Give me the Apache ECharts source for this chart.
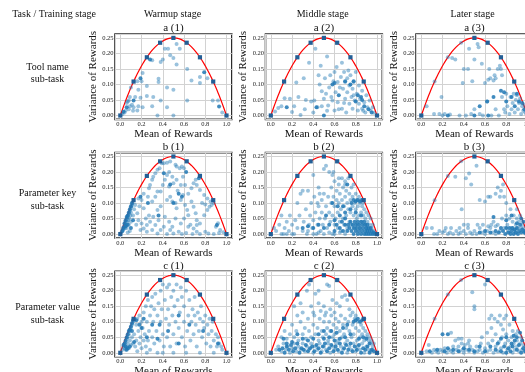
<!DOCTYPE html>
<html><head><meta charset="utf-8">
<script src="https://cdn.jsdelivr.net/npm/echarts@6/dist/echarts.min.js"></script>
<style>html,body{margin:0;padding:0;background:#fff}#c{width:525px;height:372px}</style>
</head><body><div id="c"></div>
<script>
// ---------- text ----------
const cornerHeader = 'Task / Training stage';
const colHeaders = ['Warmup stage', 'Middle stage', 'Later stage'];
const rowHeaders = ['Tool name\nsub-task', 'Parameter key\nsub-task', 'Parameter value\nsub-task'];
const panelTitles = [['a (1)', 'a (2)', 'a (3)'], ['b (1)', 'b (2)', 'b (3)'], ['c (1)', 'c (2)', 'c (3)']];
const xAxisName = 'Mean of Rewards';
const yAxisName = 'Variance of Rewards';
// ---------- binary-reward points lying on the bound (k/8 successes) ----------
const curveHits = [[0,0],[0.125,0.109375],[0.25,0.1875],[0.375,0.234375],[0.5,0.25],[0.625,0.234375],[0.75,0.1875],[0.875,0.109375],[1,0]];
const curveHitsLater = [[0,0],[0.5,0.25],[0.625,0.234375],[0.75,0.1875],[0.875,0.109375],[1,0]];
const curveHitsLaterFaint = [[0.125,0.109375],[0.25,0.1875],[0.375,0.234375]];
// ---------- scatter data: [mean, variance] ----------
const a1 = [[0.02,0.005],[0.04,0.01],[0.05,0.016],[0.07,0.045],[0.08,0.02],[0.09,0.03],[0.08,0.048],[0.09,0.06],[0.1,0.09],[0.11,0.035],[0.12,0.015],[0.125,0.027],[0.14,0.06],[0.16,0.016],[0.16,0.11],[0.17,0.083],[0.17,0.03],[0.19,0.057],[0.2,0.11],[0.21,0.137],[0.21,0.027],[0.25,0.095],[0.25,0.063],[0.3,0.178],[0.31,0.06],[0.3,0.03],[0.35,0.0],[0.36,0.118],[0.36,0.108],[0.38,0.048],[0.38,0.172],[0.4,0.18],[0.42,0.215],[0.45,0.215],[0.44,0.09],[0.44,0.027],[0.47,0.194],[0.5,0.185],[0.5,0.083],[0.5,0.0],[0.53,0.23],[0.53,0.164],[0.56,0.215],[0.63,0.15],[0.63,0.048],[0.67,0.113],[0.75,0.124],[0.75,0.105],[0.82,0.12],[0.87,0.048],[0.92,0.048],[0.96,0.01],[0.06,0.04]];
const a1Dark = [[0.03,0.012],[0.06,0.027],[0.125,0.048],[0.19,0.12],[0.28,0.18],[0.79,0.139],[0.93,0.029]];
const a2 = [[0.04,0.013],[0.07,0.024],[0.13,0.056],[0.18,0.054],[0.2,0.011],[0.22,0.03],[0.24,0.106],[0.28,0.002],[0.31,0.12],[0.32,0.02],[0.36,0.17],[0.38,0.045],[0.4,0.01],[0.41,0.048],[0.42,0.215],[0.44,0.027],[0.45,0.13],[0.47,0.16],[0.48,0.078],[0.5,0.054],[0.51,0.12],[0.53,0.19],[0.54,0.032],[0.55,0.09],[0.56,0.13],[0.58,0.048],[0.6,0.016],[0.61,0.075],[0.62,0.156],[0.63,0.043],[0.63,0.108],[0.66,0.124],[0.67,0.17],[0.67,0.022],[0.68,0.086],[0.69,0.14],[0.7,0.054],[0.7,0.108],[0.71,0.01],[0.72,0.075],[0.73,0.145],[0.74,0.038],[0.74,0.097],[0.75,0.13],[0.76,0.06],[0.77,0.022],[0.77,0.086],[0.78,0.108],[0.79,0.048],[0.8,0.14],[0.81,0.07],[0.82,0.016],[0.83,0.097],[0.83,0.038],[0.86,0.022],[0.86,0.08],[0.88,0.043],[0.89,0.01],[0.9,0.065],[0.91,0.027],[0.93,0.048],[0.94,0.016],[0.96,0.027],[0.97,0.009],[0.1,0.03],[0.26,0.06],[0.33,0.05],[0.46,0.1],[0.52,0.07],[0.57,0.06],[0.59,0.11],[0.65,0.09],[0.69,0.04],[0.72,0.12],[0.78,0.065],[0.84,0.055],[0.87,0.015],[0.64,0.02],[0.53,0.015],[0.48,0.03],[0.6,0.14]];
const a2Dark = [[0.15,0.027],[0.43,0.027],[0.5,0.0],[0.58,0.1],[0.64,0.065],[0.85,0.06],[0.75,0.1],[0.8,0.045],[0.88,0.03],[0.92,0.02],[0.6,0.105],[0.7,0.11],[0.78,0.11],[0.82,0.065],[0.86,0.05],[0.95,0.01]];
const a3 = [[0.05,0.03],[0.12,0.005],[0.17,0.005],[0.19,0.06],[0.2,0.0],[0.22,0.005],[0.27,0.003],[0.29,0.185],[0.32,0.18],[0.36,0.0],[0.39,0.105],[0.4,0.15],[0.42,0.0],[0.44,0.15],[0.45,0.215],[0.47,0.005],[0.48,0.11],[0.5,0.18],[0.5,0.02],[0.53,0.23],[0.54,0.22],[0.55,0.005],[0.57,0.167],[0.58,0.0],[0.6,0.105],[0.62,0.045],[0.63,0.115],[0.64,0.15],[0.65,0.12],[0.66,0.0],[0.68,0.113],[0.69,0.13],[0.7,0.12],[0.7,0.02],[0.72,0.15],[0.73,0.0],[0.74,0.16],[0.75,0.15],[0.76,0.13],[0.76,0.06],[0.78,0.02],[0.79,0.01],[0.8,0.07],[0.81,0.03],[0.83,0.005],[0.84,0.06],[0.85,0.02],[0.86,0.04],[0.87,0.07],[0.88,0.01],[0.89,0.05],[0.9,0.065],[0.91,0.02],[0.92,0.04],[0.93,0.055],[0.94,0.005],[0.95,0.03],[0.96,0.015],[0.97,0.035],[0.98,0.01],[0.99,0.005]];
const a3Dark = [[0.25,0.0],[0.5,0.0],[0.63,0.0],[0.75,0.08],[0.78,0.075],[0.8,0.045],[0.85,0.06],[0.88,0.03],[0.9,0.07],[0.92,0.045],[0.95,0.04],[0.97,0.02],[0.55,0.03],[0.68,0.06],[0.62,0.045]];
const b1 = [[0.01,0.005],[0.02,0.012],[0.025,0.02],[0.03,0.015],[0.035,0.025],[0.04,0.03],[0.045,0.02],[0.05,0.04],[0.055,0.03],[0.06,0.05],[0.065,0.04],[0.07,0.055],[0.075,0.045],[0.08,0.065],[0.085,0.05],[0.09,0.075],[0.095,0.06],[0.1,0.085],[0.1,0.07],[0.105,0.09],[0.11,0.095],[0.115,0.1],[0.06,0.02],[0.08,0.03],[0.1,0.04],[0.12,0.06],[0.09,0.01],[0.07,0.005],[0.14,0.094],[0.17,0.115],[0.2,0.11],[0.22,0.13],[0.27,0.148],[0.28,0.158],[0.3,0.175],[0.31,0.185],[0.33,0.196],[0.35,0.207],[0.37,0.212],[0.39,0.228],[0.41,0.228],[0.44,0.23],[0.47,0.234],[0.52,0.223],[0.53,0.218],[0.56,0.212],[0.58,0.218],[0.6,0.212],[0.71,0.175],[0.72,0.158],[0.75,0.142],[0.79,0.126],[0.82,0.115],[0.85,0.105],[0.22,0.083],[0.27,0.06],[0.31,0.056],[0.35,0.078],[0.38,0.137],[0.4,0.158],[0.42,0.175],[0.46,0.153],[0.47,0.12],[0.49,0.105],[0.52,0.1],[0.53,0.083],[0.57,0.11],[0.59,0.126],[0.61,0.094],[0.63,0.078],[0.64,0.061],[0.67,0.105],[0.69,0.088],[0.71,0.067],[0.72,0.045],[0.75,0.034],[0.79,0.061],[0.82,0.078],[0.84,0.088],[0.86,0.094],[0.9,0.024],[0.94,0.013],[0.97,0.006],[0.19,0.013],[0.22,0.018],[0.25,0.008],[0.3,0.013],[0.35,0.002],[0.38,0.013],[0.44,0.0],[0.47,0.013],[0.5,0.002],[0.55,0.008],[0.58,0.0],[0.62,0.004],[0.68,0.0],[0.72,0.008],[0.75,0.0],[0.8,0.008],[0.83,0.002],[0.88,0.0],[0.93,0.004],[0.16,0.067],[0.17,0.045],[0.2,0.034],[0.24,0.05],[0.25,0.029],[0.28,0.04],[0.33,0.029],[0.36,0.045],[0.41,0.024],[0.42,0.056],[0.46,0.04],[0.49,0.024],[0.52,0.05],[0.57,0.034],[0.6,0.05],[0.64,0.024],[0.69,0.018],[0.72,0.029],[0.3,0.105],[0.33,0.12],[0.35,0.137],[0.44,0.19],[0.46,0.2],[0.49,0.185],[0.5,0.164],[0.53,0.175],[0.57,0.158],[0.59,0.185],[0.61,0.158],[0.64,0.13],[0.67,0.148],[0.69,0.164],[0.77,0.1],[0.8,0.095],[0.88,0.1],[0.92,0.035],[0.66,0.03],[0.54,0.14],[0.44,0.11],[0.38,0.09],[0.26,0.12],[0.18,0.09],[0.13,0.08],[0.15,0.03]];
const b1Dark = [[0.02,0.01],[0.03,0.02],[0.04,0.035],[0.05,0.045],[0.06,0.055],[0.07,0.06],[0.08,0.07],[0.09,0.08],[0.1,0.09],[0.11,0.1],[0.05,0.025],[0.07,0.03],[0.1,0.02],[0.19,0.12],[0.41,0.196],[0.47,0.16],[0.5,0.1],[0.55,0.13],[0.58,0.12],[0.91,0.029],[0.74,0.18],[0.26,0.1],[0.12,0.045],[0.36,0.06],[0.62,0.2]];
const b2 = [[0.03,0.02],[0.05,0.01],[0.08,0.03],[0.1,0.06],[0.12,0.0],[0.13,0.02],[0.15,0.04],[0.17,0.01],[0.18,0.06],[0.2,0.03],[0.22,0.0],[0.23,0.045],[0.25,0.02],[0.25,0.1],[0.27,0.06],[0.28,0.13],[0.3,0.01],[0.3,0.14],[0.31,0.04],[0.33,0.08],[0.34,0.0],[0.35,0.14],[0.36,0.03],[0.37,0.06],[0.38,0.1],[0.39,0.02],[0.4,0.19],[0.4,0.045],[0.41,0.12],[0.42,0.07],[0.43,0.0],[0.44,0.03],[0.45,0.15],[0.45,0.09],[0.46,0.05],[0.47,0.01],[0.48,0.11],[0.48,0.07],[0.49,0.03],[0.5,0.13],[0.5,0.21],[0.51,0.05],[0.52,0.09],[0.52,0.22],[0.53,0.02],[0.54,0.12],[0.55,0.07],[0.55,0.2],[0.56,0.04],[0.57,0.1],[0.57,0.15],[0.58,0.0],[0.58,0.06],[0.59,0.12],[0.6,0.03],[0.6,0.09],[0.6,0.17],[0.61,0.05],[0.62,0.11],[0.62,0.14],[0.63,0.02],[0.63,0.07],[0.64,0.1],[0.64,0.16],[0.65,0.04],[0.65,0.13],[0.66,0.08],[0.66,0.01],[0.67,0.11],[0.67,0.18],[0.68,0.05],[0.68,0.15],[0.69,0.09],[0.69,0.03],[0.7,0.12],[0.7,0.17],[0.71,0.06],[0.71,0.14],[0.72,0.1],[0.72,0.02],[0.73,0.08],[0.73,0.18],[0.74,0.13],[0.74,0.04],[0.75,0.11],[0.75,0.07],[0.76,0.15],[0.76,0.03],[0.77,0.09],[0.77,0.12],[0.78,0.06],[0.78,0.16],[0.79,0.1],[0.79,0.02],[0.8,0.13],[0.8,0.08],[0.81,0.05],[0.81,0.11],[0.82,0.03],[0.82,0.09],[0.83,0.12],[0.83,0.06],[0.84,0.1],[0.84,0.02],[0.85,0.07],[0.85,0.11],[0.86,0.04],[0.86,0.09],[0.87,0.06],[0.87,0.1],[0.88,0.03],[0.88,0.08],[0.89,0.05],[0.9,0.07],[0.9,0.02],[0.91,0.04],[0.92,0.06],[0.93,0.03],[0.94,0.05],[0.95,0.02],[0.96,0.03],[0.97,0.01],[0.55,0.005],[0.45,0.005],[0.35,0.01],[0.4,0.0],[0.5,0.0],[0.6,0.0],[0.65,0.005],[0.7,0.0],[0.2,0.0],[0.15,0.0],[0.1,0.0],[0.58,0.19],[0.59,0.2],[0.64,0.18],[0.7,0.16],[0.44,0.1],[0.46,0.13]];
const b2Dark = [[0.6,0.01],[0.62,0.03],[0.65,0.02],[0.67,0.04],[0.68,0.01],[0.7,0.03],[0.7,0.05],[0.72,0.01],[0.73,0.03],[0.74,0.02],[0.75,0.04],[0.76,0.01],[0.77,0.03],[0.78,0.0],[0.78,0.02],[0.79,0.04],[0.8,0.01],[0.8,0.03],[0.81,0.02],[0.82,0.0],[0.82,0.04],[0.83,0.01],[0.83,0.03],[0.84,0.02],[0.85,0.0],[0.85,0.04],[0.86,0.01],[0.86,0.03],[0.87,0.02],[0.88,0.0],[0.88,0.04],[0.89,0.01],[0.89,0.03],[0.9,0.0],[0.9,0.02],[0.91,0.01],[0.91,0.03],[0.92,0.0],[0.92,0.02],[0.93,0.01],[0.94,0.0],[0.94,0.02],[0.95,0.01],[0.96,0.0],[0.97,0.005],[0.98,0.0],[0.76,0.1],[0.78,0.11],[0.8,0.105],[0.82,0.11],[0.84,0.105],[0.86,0.11],[0.75,0.08],[0.8,0.07],[0.85,0.06],[0.7,0.07],[0.65,0.06],[0.6,0.045],[0.55,0.03],[0.5,0.02],[0.45,0.03],[0.4,0.02],[0.35,0.025],[0.3,0.02],[0.52,0.06],[0.58,0.1],[0.72,0.16],[0.68,0.09],[0.63,0.09]];
const b3 = [[0.05,0.02],[0.1,0.02],[0.12,0.0],[0.15,0.0],[0.17,0.01],[0.2,0.005],[0.22,0.01],[0.25,0.0],[0.27,0.005],[0.28,0.02],[0.3,0.0],[0.32,0.185],[0.33,0.01],[0.35,0.0],[0.37,0.005],[0.38,0.08],[0.4,0.01],[0.42,0.0],[0.42,0.18],[0.44,0.02],[0.45,0.195],[0.46,0.005],[0.47,0.16],[0.48,0.0],[0.5,0.01],[0.52,0.22],[0.52,0.0],[0.55,0.11],[0.55,0.02],[0.57,0.005],[0.6,0.105],[0.6,0.0],[0.62,0.01],[0.63,0.12],[0.65,0.12],[0.65,0.02],[0.67,0.005],[0.68,0.04],[0.7,0.13],[0.7,0.0],[0.72,0.15],[0.72,0.03],[0.74,0.12],[0.74,0.01],[0.75,0.14],[0.76,0.05],[0.77,0.16],[0.78,0.02],[0.78,0.12],[0.8,0.1],[0.8,0.06],[0.81,0.03],[0.82,0.01],[0.83,0.05],[0.84,0.08],[0.85,0.02],[0.86,0.04],[0.87,0.06],[0.88,0.01],[0.89,0.03],[0.9,0.05],[0.9,0.08],[0.91,0.02],[0.92,0.04],[0.93,0.06],[0.94,0.02],[0.95,0.03],[0.96,0.01],[0.97,0.02],[0.98,0.005],[0.58,0.03],[0.63,0.025],[0.66,0.03],[0.7,0.025],[0.44,0.03],[0.4,0.03],[0.53,0.03],[0.36,0.02],[0.23,0.02]];
const b3Dark = [[0.7,0.01],[0.73,0.005],[0.75,0.02],[0.77,0.01],[0.79,0.0],[0.8,0.02],[0.82,0.005],[0.83,0.02],[0.84,0.0],[0.85,0.01],[0.86,0.02],[0.87,0.0],[0.88,0.015],[0.89,0.005],[0.9,0.02],[0.91,0.0],[0.92,0.01],[0.93,0.03],[0.94,0.005],[0.95,0.015],[0.96,0.04],[0.97,0.005],[0.98,0.01],[0.99,0.0],[0.6,0.01],[0.65,0.005],[0.55,0.005],[0.68,0.055],[0.8,0.045],[0.85,0.06],[0.9,0.035],[0.94,0.05]];
const c1 = [[0.02,0.01],[0.03,0.02],[0.04,0.015],[0.05,0.035],[0.05,0.01],[0.06,0.045],[0.06,0.02],[0.07,0.05],[0.07,0.03],[0.08,0.06],[0.08,0.015],[0.09,0.07],[0.09,0.04],[0.1,0.08],[0.1,0.025],[0.11,0.09],[0.11,0.05],[0.12,0.1],[0.12,0.03],[0.13,0.11],[0.13,0.06],[0.14,0.02],[0.15,0.09],[0.15,0.04],[0.16,0.11],[0.16,0.005],[0.17,0.07],[0.18,0.03],[0.18,0.12],[0.19,0.05],[0.2,0.1],[0.2,0.015],[0.21,0.08],[0.22,0.04],[0.22,0.13],[0.23,0.06],[0.24,0.02],[0.24,0.15],[0.25,0.1],[0.26,0.04],[0.26,0.17],[0.27,0.07],[0.28,0.12],[0.28,0.01],[0.29,0.15],[0.3,0.05],[0.3,0.18],[0.31,0.1],[0.32,0.03],[0.32,0.14],[0.33,0.19],[0.34,0.07],[0.35,0.12],[0.35,0.0],[0.36,0.16],[0.37,0.04],[0.38,0.2],[0.38,0.1],[0.39,0.14],[0.4,0.06],[0.4,0.22],[0.41,0.02],[0.42,0.17],[0.43,0.11],[0.44,0.21],[0.44,0.05],[0.45,0.14],[0.46,0.09],[0.46,0.22],[0.47,0.02],[0.48,0.18],[0.49,0.12],[0.5,0.06],[0.5,0.2],[0.51,0.15],[0.52,0.1],[0.53,0.22],[0.53,0.03],[0.54,0.17],[0.55,0.08],[0.56,0.13],[0.57,0.21],[0.58,0.05],[0.58,0.18],[0.6,0.1],[0.6,0.15],[0.61,0.02],[0.62,0.2],[0.63,0.07],[0.64,0.12],[0.65,0.17],[0.66,0.04],[0.67,0.1],[0.68,0.14],[0.69,0.06],[0.7,0.12],[0.7,0.18],[0.71,0.09],[0.72,0.02],[0.73,0.13],[0.74,0.07],[0.75,0.11],[0.76,0.15],[0.77,0.05],[0.78,0.1],[0.79,0.08],[0.8,0.12],[0.81,0.03],[0.82,0.09],[0.83,0.06],[0.84,0.11],[0.85,0.02],[0.86,0.07],[0.87,0.1],[0.88,0.04],[0.9,0.06],[0.91,0.02],[0.92,0.05],[0.93,0.03],[0.95,0.02],[0.96,0.01],[0.5,0.0],[0.62,0.0],[0.75,0.0],[0.88,0.0],[0.25,0.0],[0.4,0.0]];
const c1Dark = [[0.03,0.025],[0.04,0.03],[0.05,0.04],[0.06,0.05],[0.07,0.06],[0.08,0.07],[0.09,0.075],[0.1,0.085],[0.11,0.095],[0.12,0.105],[0.05,0.02],[0.07,0.015],[0.09,0.02],[0.06,0.01],[0.11,0.07],[0.2,0.08],[0.22,0.11],[0.25,0.05],[0.3,0.09],[0.35,0.045],[0.37,0.09],[0.45,0.07],[0.55,0.12],[0.55,0.03],[0.65,0.09],[0.92,0.03],[0.78,0.07],[0.15,0.105],[0.13,0.035],[0.18,0.09]];
const c2 = [[0.05,0.01],[0.07,0.02],[0.1,0.005],[0.12,0.03],[0.14,0.01],[0.16,0.02],[0.18,0.0],[0.2,0.015],[0.22,0.03],[0.24,0.005],[0.26,0.02],[0.28,0.01],[0.3,0.03],[0.32,0.005],[0.34,0.02],[0.36,0.01],[0.38,0.03],[0.4,0.0],[0.42,0.02],[0.44,0.01],[0.46,0.03],[0.48,0.005],[0.5,0.02],[0.52,0.01],[0.54,0.03],[0.56,0.0],[0.58,0.02],[0.6,0.01],[0.62,0.03],[0.64,0.005],[0.66,0.02],[0.68,0.01],[0.7,0.03],[0.72,0.0],[0.74,0.02],[0.76,0.01],[0.78,0.03],[0.8,0.005],[0.82,0.02],[0.84,0.01],[0.86,0.03],[0.88,0.0],[0.9,0.02],[0.92,0.01],[0.94,0.005],[0.96,0.01],[0.1,0.05],[0.13,0.07],[0.15,0.045],[0.18,0.06],[0.2,0.09],[0.22,0.05],[0.24,0.07],[0.26,0.04],[0.28,0.1],[0.3,0.06],[0.32,0.08],[0.33,0.045],[0.35,0.11],[0.36,0.07],[0.38,0.05],[0.4,0.09],[0.41,0.12],[0.42,0.06],[0.44,0.08],[0.45,0.04],[0.46,0.11],[0.48,0.07],[0.49,0.05],[0.5,0.1],[0.51,0.12],[0.52,0.06],[0.53,0.08],[0.54,0.04],[0.55,0.1],[0.56,0.07],[0.57,0.12],[0.58,0.05],[0.59,0.09],[0.6,0.06],[0.61,0.11],[0.62,0.08],[0.63,0.04],[0.64,0.1],[0.65,0.07],[0.66,0.12],[0.67,0.05],[0.68,0.09],[0.69,0.06],[0.7,0.11],[0.71,0.08],[0.72,0.04],[0.73,0.1],[0.74,0.07],[0.75,0.12],[0.76,0.05],[0.77,0.09],[0.78,0.06],[0.79,0.11],[0.8,0.08],[0.81,0.04],[0.82,0.1],[0.83,0.07],[0.84,0.05],[0.85,0.09],[0.86,0.06],[0.87,0.08],[0.88,0.04],[0.89,0.07],[0.9,0.05],[0.91,0.06],[0.92,0.04],[0.93,0.05],[0.94,0.03],[0.95,0.04],[0.96,0.02],[0.97,0.03],[0.3,0.13],[0.34,0.2],[0.36,0.22],[0.38,0.15],[0.4,0.13],[0.42,0.19],[0.45,0.16],[0.47,0.135],[0.5,0.15],[0.52,0.13],[0.53,0.22],[0.55,0.215],[0.56,0.14],[0.58,0.17],[0.6,0.13],[0.62,0.16],[0.65,0.15],[0.67,0.18],[0.7,0.185],[0.72,0.17],[0.74,0.14],[0.77,0.13],[0.8,0.12],[0.45,0.2],[0.25,0.12],[0.22,0.15],[0.28,0.16]];
const c2Dark = [[0.08,0.01],[0.11,0.015],[0.13,0.0],[0.15,0.02],[0.17,0.01],[0.19,0.025],[0.21,0.005],[0.23,0.015],[0.25,0.03],[0.27,0.0],[0.29,0.015],[0.31,0.01],[0.33,0.025],[0.35,0.005],[0.37,0.015],[0.39,0.02],[0.41,0.005],[0.43,0.025],[0.45,0.015],[0.47,0.0],[0.49,0.02],[0.51,0.03],[0.53,0.005],[0.55,0.015],[0.57,0.025],[0.59,0.005],[0.61,0.02],[0.63,0.01],[0.65,0.03],[0.67,0.0],[0.69,0.015],[0.71,0.025],[0.73,0.01],[0.75,0.03],[0.77,0.005],[0.79,0.02],[0.81,0.01],[0.83,0.025],[0.85,0.0],[0.87,0.015],[0.89,0.01],[0.91,0.02],[0.93,0.0],[0.95,0.01],[0.97,0.005],[0.78,0.1],[0.8,0.105],[0.82,0.11],[0.84,0.1],[0.86,0.105],[0.88,0.11],[0.83,0.045],[0.87,0.05],[0.75,0.06],[0.7,0.05],[0.65,0.045],[0.6,0.04],[0.55,0.05],[0.5,0.045],[0.45,0.06],[0.4,0.045],[0.35,0.04],[0.3,0.045],[0.25,0.06],[0.2,0.035],[0.15,0.03],[0.72,0.09],[0.68,0.08],[0.62,0.065],[0.57,0.07],[0.5,0.07],[0.9,0.045],[0.93,0.03],[0.12,0.045]];
const c3 = [[0.05,0.005],[0.07,0.025],[0.1,0.0],[0.12,0.01],[0.14,0.005],[0.16,0.0],[0.18,0.01],[0.2,0.005],[0.22,0.015],[0.24,0.0],[0.26,0.01],[0.28,0.065],[0.28,0.005],[0.3,0.02],[0.3,0.0],[0.32,0.04],[0.33,0.01],[0.35,0.045],[0.35,0.02],[0.36,0.005],[0.38,0.045],[0.38,0.03],[0.39,0.01],[0.4,0.0],[0.41,0.025],[0.42,0.01],[0.44,0.03],[0.45,0.005],[0.46,0.02],[0.48,0.195],[0.48,0.01],[0.5,0.15],[0.5,0.14],[0.5,0.0],[0.52,0.02],[0.53,0.005],[0.55,0.01],[0.56,0.03],[0.58,0.0],[0.6,0.22],[0.6,0.015],[0.62,0.005],[0.63,0.03],[0.64,0.11],[0.65,0.01],[0.66,0.12],[0.67,0.04],[0.68,0.0],[0.69,0.11],[0.7,0.06],[0.7,0.02],[0.72,0.1],[0.72,0.005],[0.73,0.035],[0.74,0.12],[0.75,0.09],[0.75,0.015],[0.76,0.05],[0.77,0.075],[0.77,0.0],[0.78,0.11],[0.79,0.03],[0.8,0.12],[0.8,0.06],[0.81,0.01],[0.82,0.04],[0.83,0.09],[0.84,0.02],[0.85,0.05],[0.86,0.0],[0.86,0.07],[0.87,0.03],[0.88,0.01],[0.89,0.06],[0.9,0.04],[0.9,0.02],[0.91,0.07],[0.92,0.005],[0.93,0.03],[0.94,0.05],[0.95,0.01],[0.96,0.025],[0.97,0.005],[0.98,0.02],[0.62,0.065],[0.66,0.08],[0.57,0.05],[0.45,0.04]];
const c3Dark = [[0.08,0.005],[0.15,0.01],[0.22,0.005],[0.25,0.015],[0.3,0.01],[0.35,0.005],[0.4,0.015],[0.45,0.01],[0.5,0.005],[0.55,0.02],[0.6,0.005],[0.65,0.02],[0.7,0.01],[0.72,0.03],[0.75,0.005],[0.78,0.02],[0.8,0.0],[0.82,0.015],[0.84,0.005],[0.86,0.02],[0.88,0.04],[0.9,0.01],[0.92,0.025],[0.94,0.0],[0.95,0.04],[0.96,0.015],[0.98,0.005],[0.99,0.01],[0.2,0.06],[0.25,0.06],[0.75,0.045],[0.8,0.05],[0.85,0.03],[0.87,0.055],[0.9,0.05],[0.93,0.065]];

const panelLight = [[a1, a2, a3.concat(curveHitsLaterFaint)], [b1, b2, b3.concat(curveHitsLaterFaint)], [c1, c2, c3.concat(curveHitsLaterFaint)]];
const panelDark = [[a1Dark, a2Dark, a3Dark], [b1Dark, b2Dark, b3Dark], [c1Dark, c2Dark, c3Dark]];
const panelHits = [curveHits, curveHits, curveHitsLater];

// theoretical upper bound for variance of rewards in [0,1]: p(1-p)
const boundCurve = [];
for (let i = 0; i <= 200; i++) { const p = i / 200; boundCurve.push([p, p * (1 - p)]); }

// ---------- layout ----------
const colLeft = [115, 265.5, 416];
const rowTop = [34, 152.6, 271.3];
const W = 116.8, H = 85.4;
const FONT = '"Liberation Serif", "Times New Roman", serif';
const BLUE = '#1f77b4';

const grid = [], xAxis = [], yAxis = [], series = [], graphic = [];
let gi = 0;
for (let r = 0; r < 3; r++) {
  for (let c = 0; c < 3; c++) {
    grid.push({left: colLeft[c], top: rowTop[r], width: W, height: H, show: true,
      borderColor: '#2b2b2b', borderWidth: 1.6, backgroundColor: 'rgba(0,0,0,0)',
      containLabel: false, outerBoundsMode: 'none'});
    xAxis.push({gridIndex: gi, type: 'value', min: -0.05, max: 1.05, splitNumber: 5,
      axisLine: {show: false}, axisTick: {show: false},
      axisLabel: {show: true, showMinLabel: false, showMaxLabel: false, fontSize: 6.5, margin: 1.5,
        color: '#222', fontFamily: FONT, formatter: v => (Math.abs(v - Math.round(v * 5) / 5) < 1e-6 ? v.toFixed(1) : '')},
      splitLine: {show: true, lineStyle: {color: '#d2d2d2', width: 1}},
      name: xAxisName, nameLocation: 'middle', nameGap: 6,
      nameTextStyle: {fontSize: 11, fontFamily: FONT, color: '#111'}});
    yAxis.push({gridIndex: gi, type: 'value', min: -0.0125, max: 0.2625, splitNumber: 5,
      axisLine: {show: false}, axisTick: {show: false},
      axisLabel: {show: true, showMinLabel: false, showMaxLabel: false, fontSize: 6.5, margin: 1.5,
        color: '#222', fontFamily: FONT, formatter: v => (Math.abs(v * 20 - Math.round(v * 20)) < 1e-6 ? v.toFixed(2) : '')},
      splitLine: {show: true, lineStyle: {color: '#d2d2d2', width: 1}},
      name: yAxisName, nameLocation: 'middle', nameGap: 12.5,
      nameTextStyle: {fontSize: 11, fontFamily: FONT, color: '#111'}});
    series.push({type: 'line', xAxisIndex: gi, yAxisIndex: gi, data: boundCurve, showSymbol: false,
      symbol: 'none', lineStyle: {color: '#ff0000', width: 1.2}, z: 2, silent: true});
    series.push({type: 'scatter', xAxisIndex: gi, yAxisIndex: gi, data: panelLight[r][c], symbolSize: 4,
      itemStyle: {color: BLUE, opacity: 0.45}, z: 3});
    series.push({type: 'scatter', xAxisIndex: gi, yAxisIndex: gi, data: panelDark[r][c], symbolSize: 4,
      itemStyle: {color: BLUE, opacity: 0.85}, z: 4});
    series.push({type: 'scatter', xAxisIndex: gi, yAxisIndex: gi, data: panelHits[c], symbol: 'rect', symbolSize: 4.2,
      itemStyle: {color: '#235f96', opacity: 1}, z: 5});
    graphic.push({type: 'text', x: colLeft[c] + W / 2, y: rowTop[r] - 5.5,
      style: {text: panelTitles[r][c], fontSize: 11, fontFamily: FONT, fill: '#111', align: 'center', verticalAlign: 'middle'}});
    gi++;
  }
}
const colHeaderX = [172.5, 322.7, 472.5];
for (let c = 0; c < 3; c++) {
  graphic.push({type: 'text', x: colHeaderX[c], y: 14,
    style: {text: colHeaders[c], fontSize: 10, fontFamily: FONT, fill: '#111', align: 'center', verticalAlign: 'middle'}});
}
graphic.push({type: 'text', x: 54, y: 14,
  style: {text: cornerHeader, fontSize: 10, fontFamily: FONT, fill: '#111', align: 'center', verticalAlign: 'middle'}});
const rowHeaderY = [73.3, 199.7, 313.8];
for (let r = 0; r < 3; r++) {
  graphic.push({type: 'text', x: 47.5, y: rowHeaderY[r],
    style: {text: rowHeaders[r], fontSize: 10, lineHeight: 12.7, fontFamily: FONT, fill: '#111', align: 'center', verticalAlign: 'middle'}});
}

const chart = echarts.init(document.getElementById('c'), null, {renderer: 'canvas'});
chart.setOption({animation: false, backgroundColor: '#fff', grid, xAxis, yAxis, series, graphic});
</script></body></html>
